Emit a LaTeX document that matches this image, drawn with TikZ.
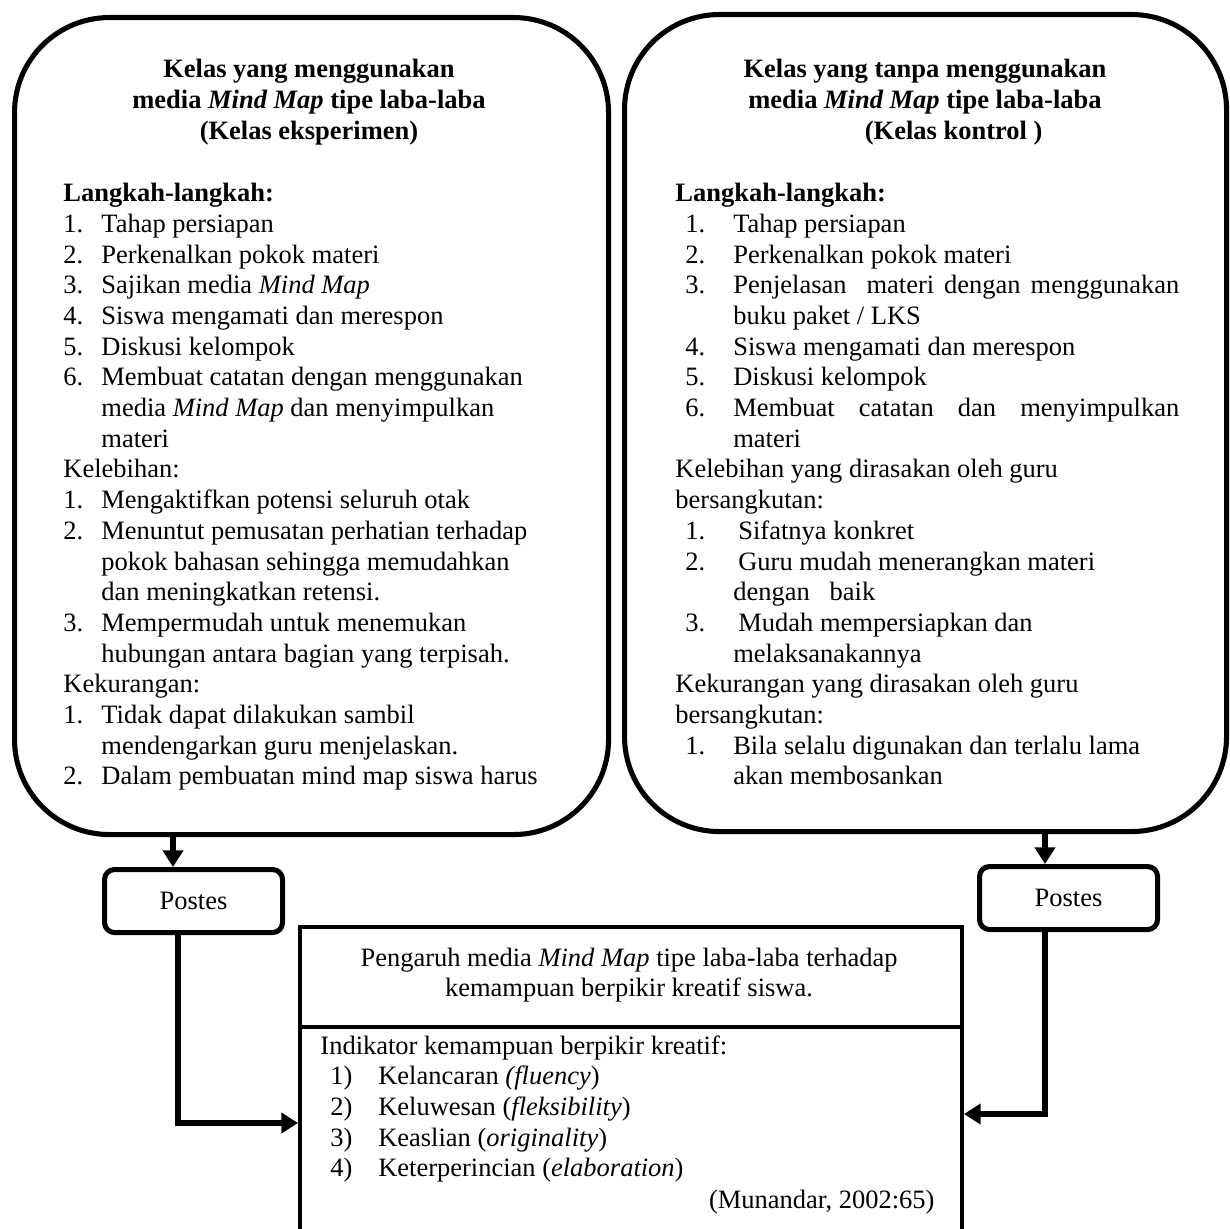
\documentclass[tikz,border=0pt]{standalone}
\usepackage{fontspec}
\setmainfont{Liberation Serif}
\usepackage{tikz}
\usetikzlibrary{arrows.meta}
\def\nomorA#1{\makebox[17.2pt][l]{#1}}
\def\nomorB#1{\hspace*{4.5pt}\makebox[21.7pt][l]{#1}}
\def\geserA{\hspace*{17.2pt}}
\def\geserB{\hspace*{26.2pt}}

\begin{document}
\begin{tikzpicture}[x=0.453pt, y=-0.453pt,
		kotakbulat/.style={draw, line width=2.3pt, rounded corners=43pt, inner sep=0pt, anchor=north west},
		kotakpostes/.style={draw, line width=2.3pt, rounded corners=4.5pt, inner sep=0pt, anchor=north west,
			minimum width=178*0.453pt, minimum height=63*0.453pt, font=\fontsize{12}{13.9}\selectfont},
		panah/.style={line width=2.3pt, -{Triangle[length=7.5pt,width=9pt]}},
		teks/.style={inner sep=0pt, font=\fontsize{12}{13.9}\selectfont}]
		%%%%% START %%%%%
		\useasboundingbox (0,0) rectangle (1229,1229);
		\clip (0,0) rectangle (1229,1229);
		
		\node[kotakbulat, minimum width=594*0.453pt, minimum height=817*0.453pt] (kiri) at (12,15) {};
		\node[kotakbulat, minimum width=602*0.453pt, minimum height=817*0.453pt] (kanan) at (622,12) {};
		
		\node[teks, align=center] (judulA) at (309,102) {\textbf{Kelas yang menggunakan}\\ \textbf{media \textit{Mind Map} tipe laba-laba}\\ \textbf{(Kelas eksperimen)}};
		\node[teks, align=center] (judulB) at (925,102) {\textbf{Kelas yang tanpa menggunakan}\\ \textbf{media \textit{Mind Map} tipe laba-laba}\\ \hspace*{26pt}\textbf{(Kelas kontrol )}};
		
		\node[teks, align=left, anchor=north west] (isiA) at (63,183) {\textbf{Langkah-langkah:}\\
			\nomorA{1.}Tahap persiapan\\
			\nomorA{2.}Perkenalkan pokok materi\\
			\nomorA{3.}Sajikan media \textit{Mind Map}\\
			\nomorA{4.}Siswa mengamati dan merespon\\
			\nomorA{5.}Diskusi kelompok\\
			\nomorA{6.}Membuat catatan dengan menggunakan\\
			\geserA media \textit{Mind Map} dan menyimpulkan\\
			\geserA materi\\
			Kelebihan:\\
			\nomorA{1.}Mengaktifkan potensi seluruh otak\\
			\nomorA{2.}Menuntut pemusatan perhatian terhadap\\
			\geserA pokok bahasan sehingga memudahkan\\
			\geserA dan meningkatkan retensi.\\
			\nomorA{3.}Mempermudah untuk menemukan\\
			\geserA hubungan antara bagian yang terpisah.\\
			Kekurangan:\\
			\nomorA{1.}Tidak dapat dilakukan sambil\\
			\geserA mendengarkan guru menjelaskan.\\
			\nomorA{2.}Dalam pembuatan mind map siswa harus};
		
		\node[teks, align=left, anchor=north west] (isiB) at (675,183) {\textbf{Langkah-langkah:}\\
			\nomorB{1.}Tahap persiapan\\
			\nomorB{2.}Perkenalkan pokok materi\\
			\nomorB{3.}\makebox[202pt][s]{Penjelasan\ \ materi dengan menggunakan}\\
			\geserB buku paket / LKS\\
			\nomorB{4.}Siswa mengamati dan merespon\\
			\nomorB{5.}Diskusi kelompok\\
			\nomorB{6.}\makebox[202pt][s]{Membuat catatan dan menyimpulkan}\\
			\geserB materi\\
			Kelebihan yang dirasakan oleh guru\\
			bersangkutan:\\
			\nomorB{1.}\hspace*{2.3pt}Sifatnya konkret\\
			\nomorB{2.}\hspace*{2.3pt}Guru mudah menerangkan materi\\
			\geserB dengan\ \ \ baik\\
			\nomorB{3.}\hspace*{2.3pt}Mudah mempersiapkan dan\\
			\geserB melaksanakannya\\
			Kekurangan yang dirasakan oleh guru\\
			bersangkutan:\\
			\nomorB{1.}Bila selalu digunakan dan terlalu lama\\
			\geserB akan membosankan};
		
		\node[kotakpostes] (postesA) at (102,867) {Postes};
		\node[kotakpostes] (postesB) at (977,864) {Postes};
		
		\node[draw, line width=1.8pt, inner sep=0pt, anchor=north west, minimum width=662*0.453pt, minimum height=330*0.453pt] (hasil) at (298,925) {};
		\coordinate (garis) at (0,1027);
		\draw[line width=1.8pt] (hasil.west |- garis) -- (hasil.east |- garis);
		
		\node[teks, align=center] (judulC) at (629,975) {Pengaruh media \textit{Mind Map} tipe laba-laba terhadap\\ kemampuan berpikir kreatif siswa.};
		\node[teks, align=left, anchor=north west] (isiC) at (320,1035) {Indikator kemampuan berpikir kreatif:\\
			\nomorB{1)}Kelancaran \textit{(fluency})\\
			\nomorB{2)}Keluwesan (\textit{fleksibility})\\
			\nomorB{3)}Keaslian (\textit{originality})\\
			\nomorB{4)}Keterperincian (\textit{elaboration})};
		\node[teks, anchor=base east] (sumber) at (935,1208) {(Munandar, 2002:65)};
		
		\coordinate (pA) at (173,0);
		\coordinate (pB) at (1045,0);
		\coordinate (qA) at (178,1123);
		\coordinate (qB) at (1045,1114);
		
		\draw[panah] (kiri.south -| pA) -- (postesA.north -| pA);
		\draw[panah] (kanan.south -| pB) -- (postesB.north -| pB);
		\draw[panah] (postesA.south -| qA) |- (hasil.west |- qA);
		\draw[panah] (postesB.south -| qB) |- (hasil.east |- qB);
		%%%%% END %%%%%
\end{tikzpicture}
\end{document}
